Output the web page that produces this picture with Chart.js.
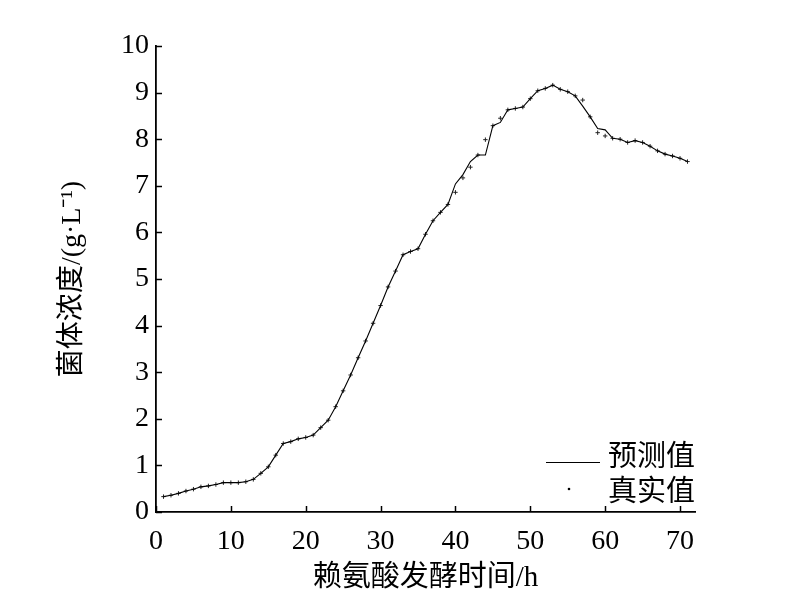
<!DOCTYPE html>
<html>
<head>
<meta charset="utf-8">
<script src="https://cdn.jsdelivr.net/npm/chart.js@4"></script>
<style>
  html, body { margin: 0; padding: 0; background: #fff; }
  #wrap { width: 800px; height: 599px; }
</style>
</head>
<body>
<div id="wrap"><canvas id="c" width="800" height="599"></canvas></div>
<script>
/* ---- data ---- */
const hours = [1,2,3,4,5,6,7,8,9,10,11,12,13,14,15,16,17,18,19,20,
  21,22,23,24,25,26,27,28,29,30,31,32,33,34,35,36,37,38,39,40,
  41,42,43,44,45,46,47,48,49,50,51,52,53,54,55,56,57,58,59,60,
  61,62,63,64,65,66,67,68,69,70,71];

const predicted = [0.33,0.36,0.40,0.45,0.49,0.54,0.56,0.59,0.63,0.63,
  0.63,0.65,0.70,0.83,0.97,1.22,1.47,1.51,1.57,1.60,
  1.65,1.81,1.97,2.26,2.60,2.94,3.31,3.67,4.05,4.43,
  4.83,5.17,5.52,5.59,5.65,5.96,6.25,6.43,6.60,7.04,
  7.24,7.52,7.66,7.66,8.29,8.36,8.63,8.66,8.69,8.87,
  9.04,9.09,9.16,9.07,9.02,8.93,8.71,8.48,8.23,8.20,
  8.02,8.00,7.93,7.97,7.93,7.85,7.75,7.68,7.64,7.59,7.52];

const actual = [0.33,0.36,0.40,0.45,0.49,0.54,0.56,0.59,0.63,0.63,
  0.63,0.65,0.70,0.83,0.97,1.22,1.47,1.51,1.57,1.60,
  1.65,1.81,1.97,2.26,2.60,2.94,3.31,3.67,4.05,4.43,
  4.83,5.17,5.52,5.59,5.65,5.96,6.25,6.43,6.60,6.86,
  7.17,7.40,7.66,7.99,8.29,8.45,8.63,8.66,8.69,8.87,
  9.04,9.09,9.16,9.07,9.02,8.93,8.84,8.48,8.14,8.07,
  8.02,8.00,7.93,7.97,7.93,7.85,7.75,7.68,7.64,7.59,7.52];

const xTicks = [0,10,20,30,40,50,60,70];
const seriesNames = ["预测值", "真实值"];
const xTitle = "赖氨酸发酵时间/h";
const yTitle = "菌体浓度/(g·L⁻¹)";

const serif = '"Liberation Serif", "Noto Sans CJK SC", serif';

/* inward tick marks */
const inwardTicks = {
  id: "inwardTicks",
  afterDraw(chart) {
    const ctx = chart.ctx, x = chart.scales.x, y = chart.scales.y;
    ctx.save();
    ctx.strokeStyle = "#000";
    ctx.lineWidth = 1.5;
    x.ticks.forEach(t => {
      const px = Math.round(x.getPixelForValue(t.value)) + 0.5;
      ctx.beginPath(); ctx.moveTo(px, x.top); ctx.lineTo(px, x.top - 6); ctx.stroke();
    });
    y.ticks.forEach(t => {
      const py = Math.round(y.getPixelForValue(t.value)) + 0.5;
      ctx.beginPath(); ctx.moveTo(y.right, py); ctx.lineTo(y.right + 6, py); ctx.stroke();
    });
    ctx.restore();
  }
};

/* legend inside the plot, lower right */
const cornerLegend = {
  id: "cornerLegend",
  afterDraw(chart) {
    const ctx = chart.ctx;
    const ds = chart.data.datasets;
    ctx.save();
    ctx.fillStyle = "#000";
    ctx.strokeStyle = "#000";
    ctx.font = '29px "Noto Sans CJK SC"';
    ctx.textBaseline = "middle";
    ctx.textAlign = "left";
    ctx.lineWidth = 1;
    ctx.beginPath(); ctx.moveTo(546, 462.5); ctx.lineTo(600, 462.5); ctx.stroke();
    ctx.fillText(ds[0].label, 608, 455);
    ctx.beginPath(); ctx.arc(569, 489, 1.3, 0, Math.PI * 2); ctx.fill();
    ctx.fillText(ds[1].label, 608, 490);
    ctx.restore();
  }
};

new Chart(document.getElementById("c"), {
  type: "line",
  data: {
    datasets: [
      {
        label: seriesNames[0],
        data: hours.map((h, i) => ({ x: h, y: predicted[i] })),
        borderColor: "#000",
        borderWidth: 1.1,
        pointRadius: 0,
        tension: 0,
        fill: false
      },
      {
        label: seriesNames[1],
        data: hours.map((h, i) => ({ x: h, y: actual[i] })),
        showLine: false,
        pointStyle: "cross",
        pointRadius: 2.2,
        pointBorderWidth: 1,
        pointBorderColor: "#222",
        pointBackgroundColor: "#222"
      }
    ]
  },
  options: {
    responsive: false,
    animation: false,
    devicePixelRatio: 1,
    layout: { padding: { top: 46, right: 105, left: 52, bottom: 0 } },
    plugins: { legend: { display: false }, tooltip: { enabled: false } },
    scales: {
      x: {
        type: "linear",
        min: 0,
        max: 72,
        afterBuildTicks: s => { s.ticks = xTicks.map(v => ({ value: v })); },
        afterFit: s => { s.height = 87; },
        grid: { display: false, drawTicks: false },
        border: { display: true, color: "#000", width: 1.8 },
        ticks: { color: "#000", padding: 13, maxRotation: 0, font: { family: serif, size: 28 } },
        title: { display: true, text: xTitle, color: "#000", font: { family: serif, size: 29 }, padding: { top: 4, bottom: 3 } }
      },
      y: {
        min: 0,
        max: 10,
        afterFit: s => { s.width = 104; },
        grid: { display: false, drawTicks: false },
        border: { display: true, color: "#000", width: 1.8 },
        ticks: { stepSize: 1, color: "#000", padding: 7, font: { family: serif, size: 28 } },
        title: { display: true, text: yTitle, color: "#000", font: { family: serif, size: 28 }, padding: { top: 4, bottom: 4 } }
      }
    }
  },
  plugins: [inwardTicks, cornerLegend]
});
</script>
</body>
</html>
